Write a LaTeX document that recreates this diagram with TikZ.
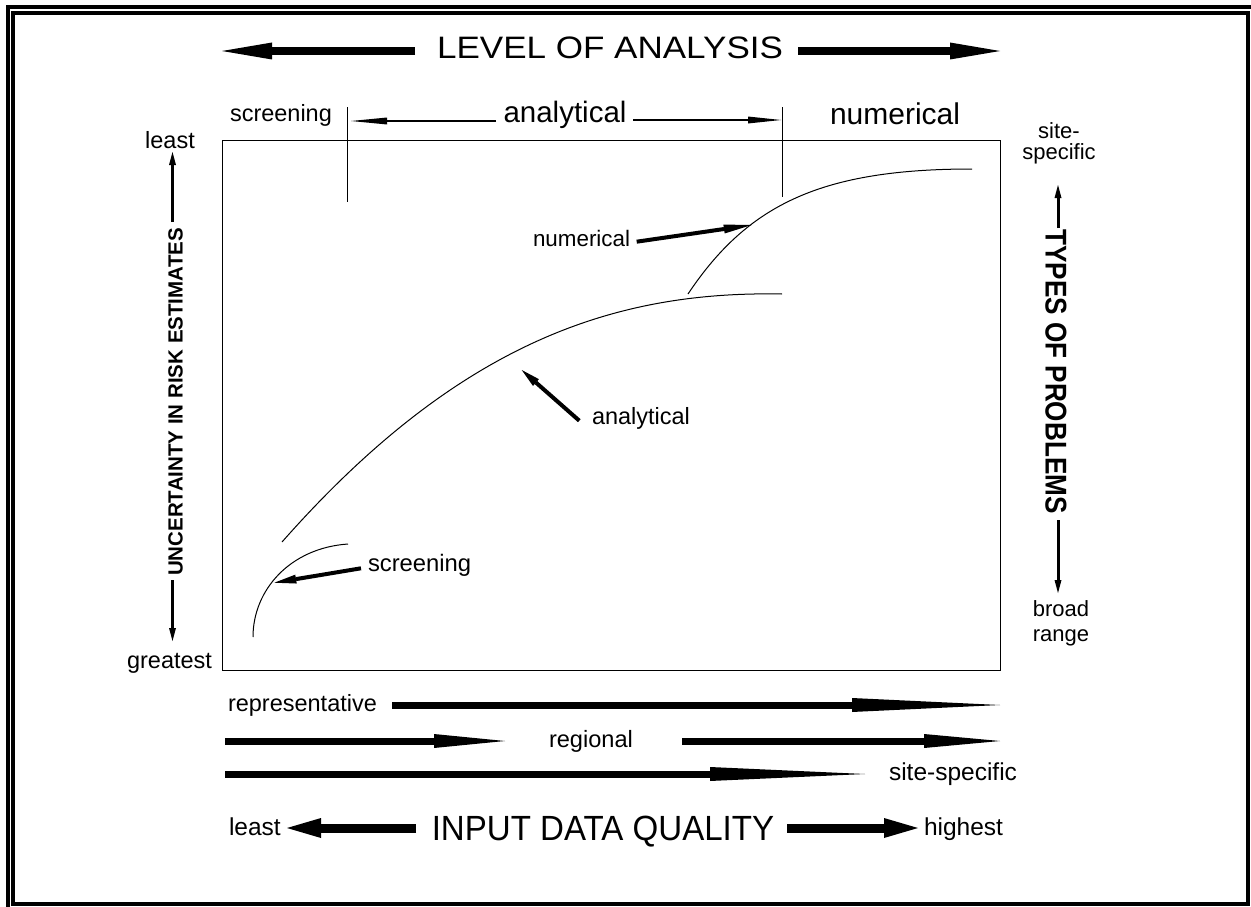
\documentclass[tikz,border=0pt]{standalone}
\usepackage{fontspec}
\setmainfont{Liberation Sans}
\usetikzlibrary{arrows.meta}
\newcommand\myfs[2]{\fontsize{#1pt}{#2pt}\selectfont}
\tikzset{
  txt/.style={inner sep=0pt, outer sep=0pt},
  frameline/.style={line width=4pt},
  thinline/.style={line width=1pt},
  curve/.style={line width=1pt},
  bigA/.style={line width=8pt, -{Triangle[length=50pt,width=17pt,line width=0pt]}},
  rowA/.style={line width=7pt, -{Triangle[length=#1,width=14pt,line width=0pt]}},
  qualA/.style={line width=9pt, -{Triangle[length=34pt,width=20pt,line width=0pt]}},
  thinA/.style={line width=2.3pt, -{Triangle[length=#1,width=7pt,line width=0pt]}},
  sideA/.style={line width=3pt, -{Triangle[length=13pt,width=7pt,line width=0pt]}},
  ptrA/.style={line width=4pt, -{Triangle[length=#1,width=9pt,line width=0pt]}},
}
\begin{document}
\begin{tikzpicture}[x=1pt,y=-1pt]
\useasboundingbox (0,0) rectangle (1251,907);
% frame
\begin{scope}
  \clip (0,0) rectangle (1251,907);
  \draw[frameline] (8,920) -- (8,7) -- (1262,7);
  \draw[frameline] (12.5,13) rectangle (1247.5,903.5);
\end{scope}
% plot box
\node[draw, thinline, minimum width=778pt, minimum height=530pt, inner sep=0pt] (plot) at (611,405) {};
% divider lines
\coordinate (d1t) at (347,107); \coordinate (d1b) at (347,202);
\coordinate (d2t) at (782,107); \coordinate (d2b) at (782,197);
\draw[thinline] (d1t) -- (d1b);
\draw[thinline] (d2t) -- (d2b);
% curves
\draw[curve] (282,542) .. controls (462,338) and (620,291) .. (782,294);
\draw[curve] (688,294) .. controls (748,204) and (822,169) .. (972,169);
\draw[curve] (253,637) .. controls (253,590) and (290,548) .. (348,544);

% title
\node[txt, font=\myfs{31}{37}, anchor=base] (loa) at (610,59) {\scalebox{1.13}[1]{LEVEL OF ANALYSIS}};
\coordinate (loaL1) at (415,51); \coordinate (loaL2) at (222,51);
\coordinate (loaR1) at (798,51); \coordinate (loaR2) at (1000,51);
\draw[bigA] (loaL1) -- (loaL2);
\draw[bigA] (loaR1) -- (loaR2);

% top labels
\node[txt, font=\myfs{23.5}{28}, anchor=base west] (scrT) at (230,121.5) {screening};
\node[txt, font=\myfs{29.5}{35}, anchor=base] (anaT) at (565,122.5) {analytical};
\node[txt, font=\myfs{30}{36}, anchor=base west] (numT) at (830,124.5) {numerical};
\coordinate (taL1) at (496,121); \coordinate (taL2) at (351,121);
\coordinate (taR1) at (633,120); \coordinate (taR2) at (781,120);
\draw[thinA=36pt] (taL1) -- (taL2);
\draw[thinA=33pt] (taR1) -- (taR2);

% left axis
\node[txt, font=\myfs{23.5}{28}, anchor=base] (leastL) at (170,148.5) {least};
\node[txt, font=\myfs{23.5}{28}, anchor=base] (greatL) at (169.5,668) {greatest};
\node[txt, font=\bfseries\myfs{20.5}{24}, rotate=90] (unc) at (175.5,402) {UNCERTAINTY IN RISK ESTIMATES};
\coordinate (lu1) at (172.5,222); \coordinate (lu2) at (172.5,152);
\coordinate (ld1) at (172.5,580); \coordinate (ld2) at (172.5,641);
\draw[sideA] (lu1) -- (lu2);
\draw[sideA] (ld1) -- (ld2);

% right axis
\node[txt, font=\myfs{22}{20.5}, align=center, anchor=north] (site) at (1059,123) {site-\\specific};
\node[txt, font=\myfs{22}{25}, align=center, anchor=north] (broad) at (1061,601) {broad\\range};
\node[txt, font=\bfseries\myfs{30}{36}, rotate=-90] (types) at (1056,371.5) {\scalebox{0.87}[1]{TYPES OF PROBLEMS}};
\coordinate (ru1) at (1058,228); \coordinate (ru2) at (1058,185);
\coordinate (rd1) at (1058,520); \coordinate (rd2) at (1058,593);
\draw[sideA] (ru1) -- (ru2);
\draw[sideA] (rd1) -- (rd2);

% curve labels and pointers
\node[txt, font=\myfs{22.4}{27}, anchor=base west] (numM) at (533,246.5) {numerical};
\node[txt, font=\myfs{23.5}{28}, anchor=base west] (anaM) at (592,424) {analytical};
\node[txt, font=\myfs{23.8}{28}, anchor=base west] (scrM) at (368,571.5) {screening};
\coordinate (pn1) at (636.7,241.7); \coordinate (pn2) at (751.7,225);
\coordinate (pa1) at (579.3,420.7); \coordinate (pa2) at (521.7,370);
\coordinate (ps1) at (361,568.3);   \coordinate (ps2) at (274.3,582.7);
\draw[ptrA=28pt] (pn1) -- (pn2);
\draw[ptrA=19pt] (pa1) -- (pa2);
\draw[ptrA=22pt] (ps1) -- (ps2);

% bottom rows
\node[txt, font=\myfs{23.5}{28}, anchor=base west] (rep) at (228,711) {representative};
\node[txt, font=\myfs{23.6}{28}, anchor=base] (reg) at (591,747) {regional};
\node[txt, font=\myfs{24.5}{29}, anchor=base west] (ssp) at (889,780) {site-specific};
\coordinate (r1a) at (392,705); \coordinate (r1b) at (1000,705);
\coordinate (r2a) at (225,741); \coordinate (r2b) at (505,741);
\coordinate (r2c) at (682,741); \coordinate (r2d) at (1000,741);
\coordinate (r3a) at (225,774); \coordinate (r3b) at (865,774);
\draw[rowA=148pt] (r1a) -- (r1b);
\draw[rowA=71pt] (r2a) -- (r2b);
\draw[rowA=76pt] (r2c) -- (r2d);
\draw[rowA=155pt] (r3a) -- (r3b);

% input data quality
\node[txt, font=\myfs{24.5}{29}, anchor=base west] (leastB) at (229,835) {least};
\node[txt, font=\myfs{35}{42}, anchor=base] (idq) at (603,840.5) {\scalebox{0.945}[1]{INPUT DATA QUALITY}};
\node[txt, font=\myfs{24.5}{29}, anchor=base west] (high) at (924,835) {highest};
\coordinate (q1a) at (416,828); \coordinate (q1b) at (287,828);
\coordinate (q2a) at (787,828); \coordinate (q2b) at (918,828);
\draw[qualA] (q1a) -- (q1b);
\draw[qualA] (q2a) -- (q2b);
\end{tikzpicture}
\end{document}
